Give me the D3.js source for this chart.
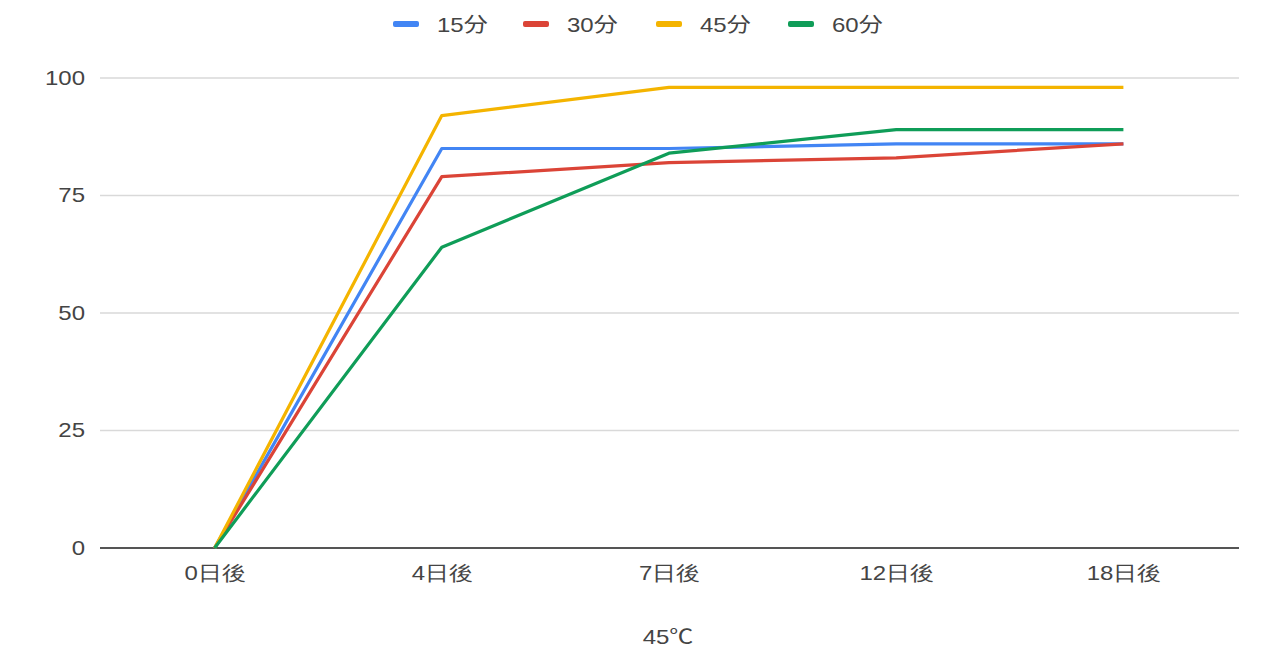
<!DOCTYPE html>
<html>
<head>
<meta charset="utf-8">
<script src="https://cdn.jsdelivr.net/npm/d3@7"></script>
<style>
  html, body { margin: 0; padding: 0; background: #fff; }
  svg { display: block; font-family: "Liberation Sans", Arial, "Noto Sans CJK JP", sans-serif; }
</style>
</head>
<body>
<svg id="chart" width="1272" height="658"></svg>
<script>
// Categories (days after treatment) and series values
const categories = ["0日後", "4日後", "7日後", "12日後", "18日後"];
const seriesNames = ["15分", "30分", "45分", "60分"];
const values15 = [0, 85, 85, 86, 86];
const values30 = [0, 79, 82, 83, 86];
const values45 = [0, 92, 98, 98, 98];
const values60 = [0, 64, 84, 89, 89];
const yTicks = [0, 25, 50, 75, 100];
const xTitle = "45℃";

const colors = ["#4285F4", "#DB4437", "#F4B400", "#0F9D58"];
const series = [values15, values30, values45, values60].map((v, i) => ({ name: seriesNames[i], values: v, color: colors[i] }));

const svg = d3.select("#chart");
const margin = { left: 101, right: 35, top: 78, bottom: 110 };
const W = 1272, H = 658;
const FS = 20;          // label font size
const STRETCH = 1.2;    // horizontal widening of label glyphs

const x = d3.scalePoint().domain(categories).range([margin.left, W - margin.right]).padding(0.5);
const y = d3.scaleLinear().domain([0, 100]).range([H - margin.bottom, margin.top]);

// horizontal gridlines
svg.append("g")
  .selectAll("line")
  .data(yTicks.filter(t => t !== 0))
  .join("line")
  .attr("x1", margin.left - 1).attr("x2", W - margin.right + 2)
  .attr("y1", d => y(d)).attr("y2", d => y(d))
  .attr("stroke", "#d9d9d9").attr("stroke-width", 1.3);

// y axis labels
const yAxis = svg.append("g")
  .attr("transform", `translate(${margin.left - 16},0)`)
  .call(d3.axisLeft(y).tickValues(yTicks).tickSize(0).tickPadding(0));
yAxis.select(".domain").remove();
yAxis.selectAll("text")
  .attr("font-size", FS).attr("fill", "#444")
  .attr("dy", "0.3em")
  .attr("transform", `scale(${STRETCH},1)`)
  .style("font-family", "'Liberation Sans', Arial, sans-serif");

// x axis labels
const xAxis = svg.append("g")
  .attr("transform", `translate(0,${y(0)})`)
  .call(d3.axisBottom(x).tickSize(0).tickPadding(18));
xAxis.select(".domain").remove();
xAxis.selectAll("text")
  .attr("font-size", FS).attr("fill", "#444")
  .attr("transform", `scale(${STRETCH},1)`);

// baseline
svg.append("line")
  .attr("x1", margin.left - 1).attr("x2", W - margin.right + 2)
  .attr("y1", y(0)).attr("y2", y(0))
  .attr("stroke", "#555").attr("stroke-width", 2);

// series lines
const line = d3.line()
  .x((d, i) => x(categories[i]))
  .y(d => y(d));

svg.append("g")
  .selectAll("path")
  .data(series)
  .join("path")
  .attr("d", d => line(d.values))
  .attr("fill", "none")
  .attr("stroke", d => d.color)
  .attr("stroke-width", 3.2)
  .attr("stroke-linejoin", "round");

// x axis title
svg.append("g")
  .attr("transform", `translate(${(margin.left + W - margin.right) / 2 - 1},644)`)
  .append("text")
  .attr("text-anchor", "middle")
  .attr("transform", `scale(${STRETCH},1)`)
  .attr("font-size", FS).attr("fill", "#444")
  .text(xTitle);

// legend
const legendX = [393, 523, 656, 788];
const legend = svg.append("g").selectAll("g")
  .data(series)
  .join("g")
  .attr("transform", (d, i) => `translate(${legendX[i]},24)`);
legend.append("rect")
  .attr("x", 0).attr("y", -3).attr("width", 26).attr("height", 6).attr("rx", 2)
  .attr("fill", d => d.color);
legend.append("g")
  .attr("transform", "translate(44,8)")
  .append("text")
  .attr("transform", `scale(${STRETCH},1)`)
  .attr("font-size", FS).attr("fill", "#444")
  .text(d => d.name);
</script>
</body>
</html>
